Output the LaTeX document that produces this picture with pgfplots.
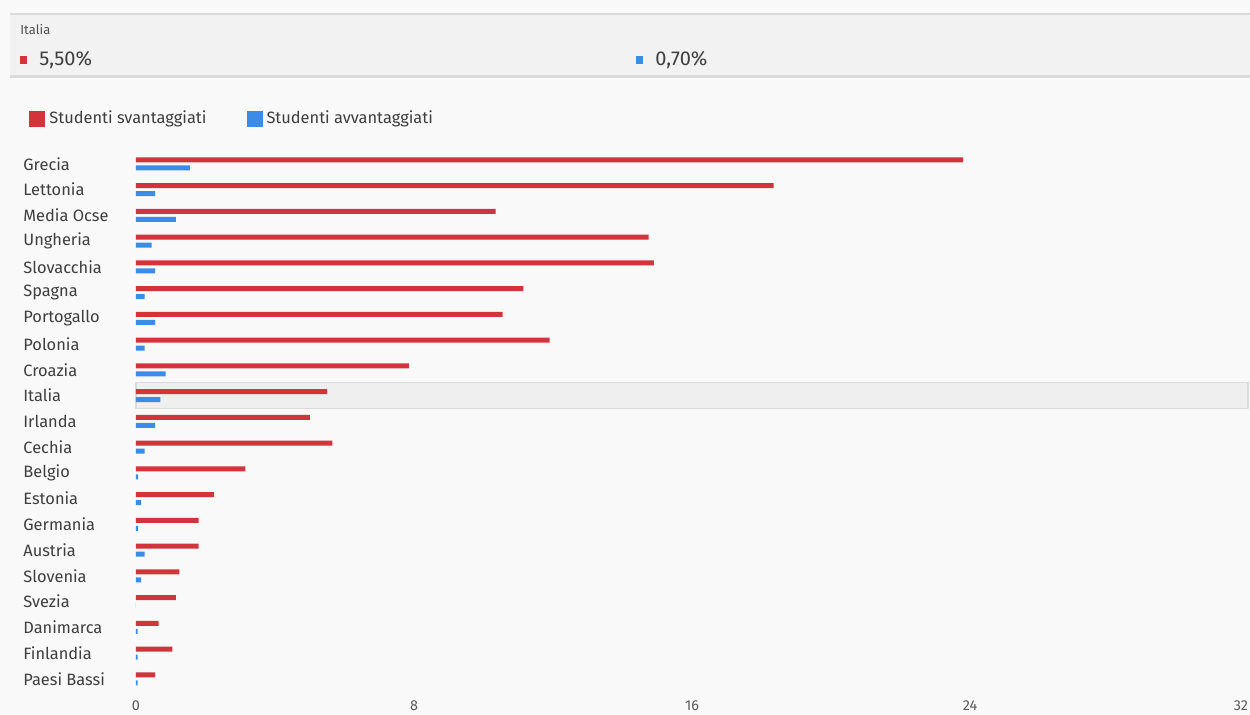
\documentclass[border=0pt]{standalone}
\usepackage{pgfplots}
\pgfplotsset{compat=1.18}
\usepackage{fontspec}
\setmainfont{Fira Sans}
\definecolor{rosso}{RGB}{209,52,58}
\definecolor{blu}{RGB}{58,141,230}
\definecolor{bg}{RGB}{249,249,249}
\definecolor{band}{RGB}{242,242,242}
\definecolor{hl}{RGB}{239,239,239}
\definecolor{bordo}{RGB}{218,218,218}
\definecolor{testo}{RGB}{62,62,62}
\pgfplotstableread{
idx svant avvant
20 23.8 1.55
19 18.35 0.55
18 10.35 1.15
17 14.75 0.45
16 14.9 0.55
15 11.15 0.25
14 10.55 0.55
13 11.9 0.25
12 7.85 0.85
11 5.5 0.7
10 5.0 0.55
9 5.65 0.25
8 3.15 0.06
7 2.25 0.15
6 1.8 0.06
5 1.8 0.25
4 1.25 0.15
3 1.15 0.0
2 0.65 0.05
1 1.05 0.05
0 0.55 0.05
}\dati
\begin{document}
\begin{tikzpicture}[x=0.5pt,y=-0.5pt]
\useasboundingbox (0,0) rectangle (1250,715);
\fill[bg] (0,0) rectangle (1250,715);
% header band
\fill[band] (10,14) rectangle (1250,76);
\draw[bordo,line width=1pt] (10,14) -- (1250,14);
\draw[bordo,line width=1.2pt] (10,76.5) -- (1250,76.5);
\node[anchor=west,inner sep=0,font=\fontsize{6.5pt}{7pt}\selectfont,text=testo!90] at (20,30) {Italia};
\fill[rosso] (20,56) rectangle (27,64);
\node[anchor=west,inner sep=0,font=\fontsize{10pt}{12pt}\selectfont,text=testo] at (39,60) {5,50\%};
\fill[blu] (636,56) rectangle (643,64);
\node[anchor=west,inner sep=0,font=\fontsize{10pt}{12pt}\selectfont,text=testo] at (655,60) {0,70\%};
\begin{axis}[
  at={(68pt,-347.2pt)}, anchor=south west,
  scale only axis, x=17.375pt, y=12.875pt,
  xmin=0, xmax=32, ymin=-0.6, ymax=20.55,
  clip=false,
  axis line style={draw=none},
  major tick length=0pt,
  xtick={0,8,16,24,32},
  xticklabels={0,8,16,24,\llap{32}},
  xticklabel style={font=\fontsize{7.2pt}{8pt}\selectfont, text=testo!85, inner sep=0.5pt, yshift=-2.5pt},
  ytick={0,...,20},
  yticklabels={Paesi Bassi,Finlandia,Danimarca,Svezia,Slovenia,Austria,Germania,Estonia,Belgio,Cechia,Irlanda,Italia,Croazia,Polonia,Portogallo,Spagna,Slovacchia,Ungheria,Media Ocse,Lettonia,Grecia},
  yticklabel style={font=\fontsize{8.2pt}{9pt}\selectfont, text=testo, anchor=west, inner sep=0pt, xshift=-56.5pt},
  xbar, bar width=2.5pt,
  legend columns=2,
  legend style={at={(-0.1016,1.087)}, anchor=north west, draw=none, fill=none,
    font=\fontsize{8.2pt}{9pt}\selectfont, text=testo,
    /tikz/every even column/.append style={column sep=18pt}},
  legend image code/.code={\fill[#1] (0pt,-4pt) rectangle (8pt,4pt);},
]
\fill[hl, draw=bordo, line width=0.6pt] (axis cs:0,10.5) rectangle (axis cs:32,11.5);
\addplot[fill=rosso, draw=none, bar shift=2pt] table[x=svant, y=idx] {\dati};
\addlegendentry{Studenti svantaggiati}
\addplot[fill=blu, draw=none, bar shift=-2pt] table[x=avvant, y=idx] {\dati};
\addlegendentry{Studenti avvantaggiati}
\end{axis}
\end{tikzpicture}
\end{document}
